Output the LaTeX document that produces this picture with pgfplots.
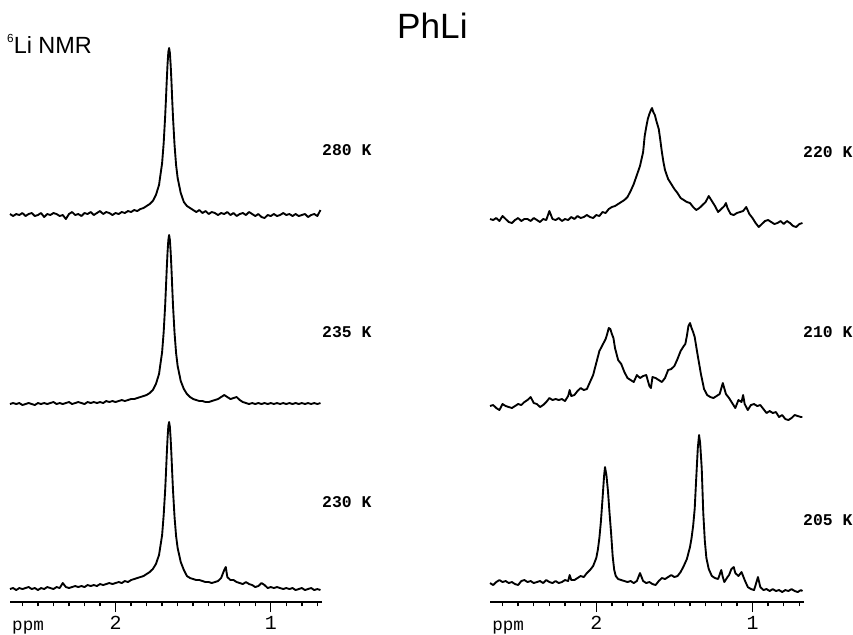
\documentclass[border=0pt]{standalone}
\usepackage{fontspec}
\setmainfont{Liberation Sans}
\newfontfamily\plotfont{Liberation Mono}
\usepackage{pgfplots}
\usepackage{pgfplotstable}
\pgfplotsset{compat=1.18}

% left panel: heights (px above baseline) for 280 K (a), 235 K (b), 230 K (c)
\pgfplotstableread{
x a b c
2.68 1 0 0
2.66 -1 1 1
2.64 1 0 -1
2.62 0 1 1
2.60 2 -1 0
2.58 -1 0 1
2.56 1 1 2
2.54 2 0 0
2.52 -1 -1 1
2.50 0 1 -1
2.48 2 0 1
2.46 -2 1 0
2.44 1 0 2
2.42 0 1 1
2.40 2 2 0
2.38 1 0 2
2.36 -1 1 1
2.34 0 0 6
2.32 -4 1 2
2.30 1 2 1
2.28 3 0 2
2.26 0 1 3
2.24 1 2 2
2.22 -1 1 3
2.20 2 0 2
2.18 1 2 4
2.16 3 1 3
2.14 0 2 4
2.12 2 1 3
2.10 4 2 5
2.08 1 1 4
2.06 3 3 5
2.04 2 2 6
2.02 0 3 5
2.00 2 2 6
1.98 1 3 7
1.96 3 4 6
1.94 2 3 8
1.92 4 4 7
1.90 3 5 9
1.88 5 5 10
1.86 4 6 11
1.84 6 7 12
1.82 7 8 13
1.80 9 9 15
1.78 11 11 17
1.76 14 14 20
1.74 20 20 25
1.72 30 30 34
1.70 52 52 54
1.69 72 72 74
1.68 100 100 100
1.675 117 118 117
1.67 135 136 135
1.665 151 152 151
1.66 163 164 163
1.655 167 169 167
1.65 162 164 162
1.645 150 152 150
1.64 134 136 134
1.635 115 117 116
1.63 98 99 99
1.62 70 71 72
1.61 50 51 53
1.60 37 38 41
1.58 22 23 27
1.56 13 15 19
1.54 9 10 13
1.52 7 7 11
1.50 5 5 10
1.48 3 4 9
1.46 5 3 9
1.44 2 3 8
1.42 4 2 7
1.40 1 2 7
1.38 3 3 6
1.36 2 4 7
1.34 0 5 8
1.32 2 7 11
1.30 1 9 19
1.29 2 8 22
1.28 3 7 12
1.26 0 5 9
1.24 2 6 9
1.22 -1 7 7
1.20 1 4 6
1.18 2 2 5
1.16 0 1 7
1.14 3 0 5
1.12 1 1 4
1.10 -1 0 2
1.08 1 1 3
1.06 -2 0 6
1.04 -3 1 4
1.02 0 0 1
1.00 -1 1 2
0.98 1 0 1
0.96 -1 1 2
0.94 0 0 1
0.92 2 1 0
0.90 0 0 1
0.88 1 1 0
0.86 -1 0 1
0.84 1 1 -1
0.82 -1 0 0
0.80 0 1 1
0.78 1 0 -1
0.76 -2 1 0
0.74 0 0 1
0.72 1 1 -1
0.70 -1 0 0
0.68 5 1 -1
}\leftdata

% 220 K
\pgfplotstableread{
x h
2.68 1
2.66 0
2.64 2
2.62 -1
2.60 4
2.58 1
2.56 -2
2.54 -3
2.52 0
2.50 2
2.48 -1
2.46 1
2.44 1
2.42 -1
2.40 2
2.38 0
2.36 -2
2.34 1
2.32 0
2.30 9
2.28 1
2.26 0
2.24 2
2.22 -1
2.20 1
2.18 0
2.16 3
2.14 1
2.12 4
2.10 2
2.08 3
2.06 5
2.04 3
2.02 2
2.00 5
1.98 4
1.96 8
1.94 7
1.92 11
1.90 13
1.88 14
1.86 16
1.84 18
1.82 20
1.80 23
1.78 29
1.76 36
1.74 45
1.72 54
1.70 68
1.69 84
1.68 93
1.67 101
1.66 106
1.65 110
1.643 112
1.635 108
1.625 105
1.615 99
1.60 91
1.59 80
1.58 68
1.57 58
1.56 50
1.54 41
1.52 36
1.50 31
1.48 27
1.46 22
1.44 20
1.42 18
1.40 17
1.38 13
1.36 10
1.34 12
1.32 15
1.30 18
1.28 24
1.26 19
1.24 14
1.22 8
1.20 11
1.18 14
1.17 17
1.16 12
1.14 6
1.12 5
1.10 7
1.08 8
1.06 9
1.04 13
1.02 6
1.00 2
0.98 -3
0.96 -7
0.94 -4
0.92 -1
0.90 0
0.88 -2
0.86 -4
0.84 -3
0.82 -1
0.80 -4
0.78 -1
0.76 -3
0.74 -6
0.72 -7
0.70 -4
0.68 -3
}\tblA

% 210 K
\pgfplotstableread{
x h
2.68 2
2.66 3
2.64 0
2.62 -2
2.60 4
2.58 2
2.56 1
2.54 0
2.52 2
2.50 4
2.48 3
2.46 6
2.44 8
2.42 11
2.40 5
2.38 4
2.36 1
2.34 3
2.32 6
2.30 10
2.28 8
2.26 9
2.24 8
2.22 9
2.20 7
2.18 12
2.17 18
2.16 12
2.14 13
2.12 17
2.10 20
2.08 18
2.06 19
2.04 26
2.02 33
2.00 45
1.98 57
1.96 63
1.94 69
1.93 74
1.92 80
1.91 79
1.90 74
1.89 70
1.88 60
1.86 48
1.84 44
1.82 36
1.80 30
1.78 28
1.76 26
1.74 33
1.72 30
1.70 32
1.68 33
1.66 22
1.65 20
1.64 31
1.62 30
1.60 28
1.58 26
1.56 30
1.54 38
1.52 39
1.50 42
1.48 49
1.46 57
1.44 62
1.43 64
1.42 72
1.41 82
1.40 85
1.39 80
1.38 76
1.37 71
1.35 52
1.33 34
1.31 19
1.29 13
1.27 11
1.25 10
1.23 12
1.21 14
1.19 25
1.17 14
1.15 10
1.13 5
1.11 0
1.09 8
1.07 6
1.06 13
1.05 4
1.03 -2
1.01 3
0.99 4
0.97 2
0.95 3
0.93 -1
0.91 -5
0.89 -3
0.87 -5
0.85 -4
0.83 -9
0.81 -7
0.79 -11
0.77 -12
0.75 -10
0.73 -7
0.71 -8
0.69 -9
0.68 -9
}\tblB

% 205 K
\pgfplotstableread{
x h
2.68 0
2.66 -2
2.64 1
2.62 3
2.60 1
2.58 2
2.56 0
2.54 1
2.52 -1
2.50 -2
2.48 2
2.46 3
2.44 1
2.42 2
2.40 0
2.38 1
2.36 2
2.34 0
2.32 3
2.30 1
2.28 0
2.26 2
2.24 0
2.22 1
2.20 3
2.18 2
2.17 8
2.16 3
2.14 3
2.12 5
2.10 7
2.08 6
2.06 10
2.04 13
2.02 17
2.00 25
1.99 33
1.98 45
1.97 62
1.96 84
1.95 107
1.944 116
1.935 108
1.925 92
1.915 70
1.905 50
1.895 27
1.885 13
1.875 7
1.86 4
1.84 3
1.82 2
1.80 1
1.78 2
1.76 0
1.74 2
1.72 10
1.70 2
1.68 0
1.66 1
1.64 -1
1.62 -2
1.60 2
1.58 5
1.56 4
1.54 6
1.52 8
1.50 6
1.48 7
1.46 11
1.44 17
1.42 24
1.40 36
1.39 45
1.38 57
1.37 74
1.36 105
1.35 135
1.342 148
1.335 140
1.325 115
1.315 70
1.305 42
1.295 25
1.28 14
1.26 7
1.24 5
1.22 4
1.20 13
1.19 6
1.18 1
1.16 6
1.15 8
1.135 14
1.12 16
1.11 10
1.09 7
1.07 11
1.05 3
1.03 -4
1.01 -6
0.99 -7
0.98 -2
0.965 6
0.95 -4
0.93 -7
0.91 -6
0.89 -8
0.87 -6
0.85 -8
0.83 -7
0.81 -9
0.79 -7
0.77 -8
0.75 -6
0.73 -8
0.71 -9
0.69 -7
0.68 -8
}\tblC

\pgfplotsset{
  spec/.style={black, line width=1.6pt, line join=round, no marks},
  nmr axis/.style={
    scale only axis,
    height=17.16cm,
    x dir=reverse,
    xmin=0.67, xmax=2.68,
    ymin=32, ymax=604,
    axis x line*=bottom,
    axis y line=none,
    axis line style={-, line width=1.3pt, black},
    clip=false,
    xtick={1,2},
    xticklabels={1,2},
    minor xtick={0.7,0.8,0.9,1.1,1.2,1.3,1.4,1.5,1.6,1.7,1.8,1.9,2.1,2.2,2.3,2.4,2.5,2.6},
    tick align=outside,
    major tick length=0.3cm,
    minor tick length=0.13cm,
    tick style={line width=1.2pt, black},
    xticklabel style={font=\plotfont\fontsize{17}{17}\selectfont, anchor=base,
      inner sep=0pt, yshift=-0.53cm}
  }
}

\begin{document}
\begin{tikzpicture}
\begin{scope}[x=0.03cm, y=-0.03cm]
  \path[use as bounding box] (0,0) rectangle (853,634);
  \node[anchor=base west, inner sep=0pt, font=\fontsize{30}{30}\selectfont] at (397,38) {PhLi};
  \node[anchor=base west, inner sep=0pt, font=\fontsize{20}{20}\selectfont] at (7,53)
    {\raisebox{9.3pt}{\fontsize{10}{10}\selectfont 6}Li NMR};
  \begin{scope}[every node/.style={anchor=base west, inner sep=0pt,
      font=\plotfont\bfseries\fontsize{14}{14}\selectfont}]
    \node at (322,155) {280 K};
    \node at (322,337) {235 K};
    \node at (322,507) {230 K};
    \node at (803,157) {220 K};
    \node at (803,337) {210 K};
    \node at (803,525) {205 K};
  \end{scope}
\end{scope}

\begin{axis}[nmr axis, width=9.36cm, at={(0.3cm,-18.06cm)}, anchor=south west]
  \addplot[spec] table[x=x, y expr=\thisrow{a}+419] {\leftdata};
  \addplot[spec] table[x=x, y expr=\thisrow{b}+230] {\leftdata};
  \addplot[spec] table[x=x, y expr=\thisrow{c}+45] {\leftdata};
  \node[anchor=base west, inner sep=0pt, font=\plotfont\fontsize{15}{15}\selectfont]
    at (rel axis cs:0,0) [xshift=0.06cm, yshift=-0.84cm] {ppm};
\end{axis}

\begin{axis}[nmr axis, width=9.42cm, at={(14.7cm,-18.06cm)}, anchor=south west]
  \addplot[spec] table[x=x, y expr=\thisrow{h}+414] {\tblA};
  \addplot[spec] table[x=x, y expr=\thisrow{h}+226] {\tblB};
  \addplot[spec] table[x=x, y expr=\thisrow{h}+51] {\tblC};
  \node[anchor=base west, inner sep=0pt, font=\plotfont\fontsize{15}{15}\selectfont]
    at (rel axis cs:0,0) [xshift=0.06cm, yshift=-0.84cm] {ppm};
\end{axis}
\end{tikzpicture}
\end{document}
